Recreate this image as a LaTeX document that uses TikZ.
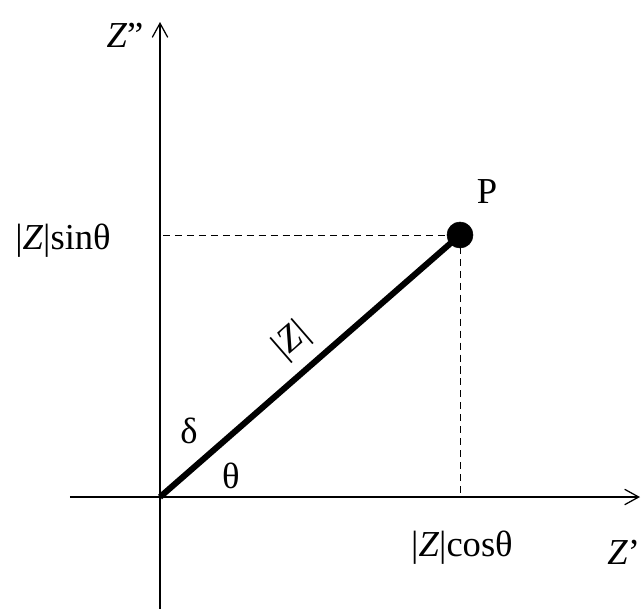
\documentclass[tikz,border=0pt]{standalone}
\usepackage{fontspec}
\setmainfont{Liberation Serif}
\usetikzlibrary{arrows.meta}

\begin{document}
\begin{tikzpicture}[x=0.025cm,y=0.025cm,
        axis/.style={line width=0.9pt,-{Straight Barb[length=10pt,width=11pt]}},
        guide/.style={line width=0.7pt,dash pattern=on 5pt off 3.5pt},
        lbl/.style={inner sep=0pt,font=\fontsize{26}{30}\selectfont}]
        \useasboundingbox (-160,-111) rectangle (482,497);
        % axes
        \coordinate (O) at (0,0);
        \coordinate (xl) at (-90,0);
        \coordinate (xr) at (480,0);
        \coordinate (yb) at (0,-115);
        \coordinate (yt) at (0,475);
        \draw[axis] (xl) -- (xr);
        \draw[axis] (yb) -- (yt);
        % the point and its projections
        \coordinate (P) at (300,262);
        \coordinate (Py) at (3,262);
        \coordinate (Px) at (300,0);
        \draw[guide] (Py) -- (P);
        \draw[guide] (P) -- (Px);
        \draw[line width=4.3pt] (O) -- (P);
        \filldraw (P) circle (13);
        % labels
        \node[lbl] (Zim) at (-35,462) {\textit{Z}”};
        \node[lbl,anchor=west] (Zre) at (447,-55) {\textit{Z}’};
        \node[lbl] (Plbl) at (327,305) {P};
        \node[lbl] (sinlbl) at (-97,256) {|\textit{Z}|sinθ};
        \node[lbl] (coslbl) at (302,-51) {|\textit{Z}|cosθ};
        \node[lbl] (dlt) at (29,66) {δ};
        \node[lbl] (tht) at (71,21) {θ};
        \node[lbl,rotate=41] (mod) at (132,156) {|\textit{Z}|};
\end{tikzpicture}
\end{document}
